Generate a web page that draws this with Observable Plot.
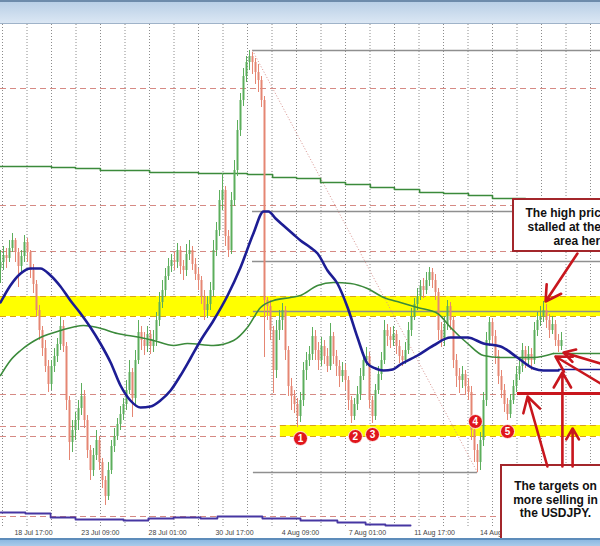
<!DOCTYPE html>
<html>
<head>
<meta charset="utf-8">
<script src="https://cdn.jsdelivr.net/npm/d3@7"></script>
<script src="https://cdn.jsdelivr.net/npm/@observablehq/plot@0.6"></script>
<style>
  html, body { margin: 0; padding: 0; background: #fff; overflow: hidden; width: 600px; height: 546px; }
  #hdr { height: 21px; background: linear-gradient(#b9cfe6, #dbe7f4); border-top: 2px solid #6d8bab; border-bottom: 1px solid #9fb3c9; }
  #ftr { height: 6px; background: linear-gradient(#8db9e2, #a9cbea); border-top: 2px solid #5d8cba; }
  #chart svg { display: block; }
</style>
</head>
<body>
<div id="hdr"></div>
<div id="chart"></div>
<div id="ftr"></div>
<script>
// ---- price candles (one every bar index) ----
const firstOpen = 110.56;
const closePrices = [
110.62,110.69,110.66,110.76,110.84,110.72,110.58,110.68,110.82,110.72,
110.54,110.40,110.14,109.94,109.76,109.58,109.40,109.58,109.68,109.80,
109.98,109.78,109.24,108.82,108.94,109.04,109.16,109.28,109.04,108.74,
108.54,108.69,108.84,108.62,108.44,108.28,108.54,108.78,108.88,109.00,
109.10,109.20,109.34,109.52,109.26,109.64,109.92,109.84,109.78,109.90,
109.78,109.84,110.04,110.22,110.34,110.48,110.58,110.64,110.62,110.74,
110.58,110.54,110.70,110.74,110.60,110.50,110.44,110.28,110.14,110.20,
110.34,110.74,110.94,111.24,111.34,110.88,110.74,111.24,111.54,111.94,
112.24,112.48,112.62,112.68,112.62,112.52,112.44,112.24,110.24,110.18,
109.94,109.54,109.94,110.04,110.14,109.74,109.38,109.28,109.20,109.08,
109.24,109.54,109.64,109.70,109.88,109.74,109.64,109.78,109.68,109.58,
109.88,109.68,109.58,109.48,109.54,109.44,109.24,109.08,109.20,109.30,
109.48,109.64,109.68,109.24,109.08,109.34,109.50,109.64,109.94,109.88,
109.84,109.90,109.78,109.68,109.64,109.74,109.94,110.08,110.20,110.28,
110.38,110.34,110.44,110.52,110.44,110.32,109.94,109.84,110.00,110.18,
110.04,109.64,109.48,109.44,109.50,109.38,109.32,108.94,108.74,108.62,
108.84,109.24,109.84,110.02,109.88,109.68,109.48,109.34,109.20,109.10,
109.24,109.38,109.50,109.58,109.74,109.64,109.70,109.64,109.94,110.04,
110.08,110.14,110.04,109.94,110.00,109.84,109.78,109.84
];
const highPrices = [
110.74,110.78,110.76,110.84,110.91,110.86,110.76,110.74,110.89,110.86,
110.74,110.60,110.44,110.19,109.98,109.84,109.64,109.64,109.76,109.86,
110.07,110.04,109.82,109.28,109.04,109.12,109.24,109.41,109.34,109.09,
108.79,108.76,108.94,108.88,108.66,108.48,108.62,108.84,108.96,109.06,
109.18,109.26,109.44,109.64,109.56,109.74,110.04,109.98,109.92,109.98,
109.94,109.94,110.12,110.32,110.44,110.56,110.66,110.70,110.72,110.81,
110.78,110.64,110.80,110.84,110.78,110.66,110.56,110.48,110.34,110.28,
110.42,110.84,111.02,111.34,111.51,111.38,110.94,111.32,111.64,112.04,
112.31,112.56,112.68,112.74,112.72,112.66,112.60,112.48,112.28,110.27,
110.24,109.98,110.04,110.14,110.21,110.18,109.78,109.46,109.34,109.26,
109.32,109.62,109.72,109.78,109.97,109.94,109.82,109.87,109.84,109.76,
110.01,109.92,109.74,109.64,109.62,109.60,109.48,109.28,109.26,109.38,
109.56,109.72,109.77,109.72,109.28,109.40,109.58,109.72,110.04,110.00,
109.97,109.98,109.94,109.84,109.74,109.82,110.02,110.16,110.26,110.36,
110.44,110.46,110.52,110.57,110.56,110.50,110.36,110.02,110.08,110.24,
110.22,110.08,109.70,109.56,109.58,109.54,109.46,109.38,109.00,108.80,
108.92,109.32,109.92,110.07,110.06,109.94,109.74,109.54,109.40,109.26,
109.30,109.44,109.58,109.66,109.81,109.78,109.78,109.76,110.02,110.12,
110.18,110.23,110.20,110.10,110.08,110.04,109.90,109.92
];
const lowPrices = [
110.41,110.54,110.56,110.62,110.72,110.62,110.37,110.52,110.62,110.62,
110.46,110.31,110.07,109.84,109.68,109.52,109.32,109.34,109.52,109.62,
109.74,109.72,109.14,108.64,108.72,108.84,108.94,109.09,108.96,108.66,
108.44,108.48,108.64,108.54,108.36,108.19,108.24,108.50,108.72,108.84,
108.94,109.04,109.14,109.30,109.07,109.20,109.60,109.74,109.69,109.72,
109.70,109.72,109.78,109.98,110.16,110.28,110.44,110.52,110.54,110.56,
110.50,110.44,110.48,110.64,110.54,110.44,110.34,110.20,110.04,110.06,
110.14,110.28,110.68,110.88,111.14,110.78,110.67,110.70,111.18,111.48,
111.88,112.18,112.42,112.54,112.50,112.40,112.32,112.17,109.67,110.04,
109.84,109.31,109.46,109.84,109.94,109.64,109.28,109.14,109.11,108.97,
109.02,109.18,109.44,109.58,109.64,109.64,109.54,109.58,109.60,109.52,
109.54,109.60,109.48,109.37,109.42,109.34,109.14,109.01,109.04,109.14,
109.24,109.44,109.58,109.16,109.01,109.04,109.30,109.44,109.60,109.78,
109.76,109.78,109.70,109.61,109.58,109.60,109.70,109.88,110.04,110.14,
110.24,110.26,110.30,110.38,110.36,110.24,109.84,109.77,109.78,109.94,
109.94,109.56,109.37,109.31,109.36,109.30,109.24,108.84,108.62,108.52,
108.54,108.78,109.18,109.78,109.80,109.60,109.40,109.26,109.12,109.04,
109.06,109.20,109.32,109.44,109.52,109.56,109.58,109.54,109.60,109.88,
109.98,110.02,109.96,109.86,109.90,109.78,109.72,109.74
];

// ---- moving averages ----
const blueMABars   = [0,3.3,6.7,10,13.3,16.7,20,23.3,26.7,30,33.3,36.7,40,43.3,46.7,50,53.3,56.7,60,63.3,66.7,71,75.7,80,84.3,87.7,89.3,91.7,94.3,97.7,100,103.3,105.7,109,112.3,115.7,119,122.3,125,127.7,130.7,133.3,139,144.3,150,155.7,161,166.7,172.3,177.7,181,186];
const blueMAPrices = [110.22,110.39,110.51,110.56,110.56,110.49,110.38,110.24,110.11,109.97,109.81,109.62,109.39,109.24,109.17,109.18,109.24,109.34,109.49,109.66,109.84,110.04,110.29,110.57,110.91,111.13,111.13,111.06,110.99,110.90,110.84,110.77,110.71,110.54,110.41,110.17,109.87,109.61,109.56,109.54,109.55,109.60,109.69,109.79,109.87,109.87,109.81,109.78,109.67,109.56,109.54,109.54];
const blueMAExtension = {from: 186, to: 200, price: 109.55};

const greenMABars   = [0,3.3,6.7,13.3,20,27.7,32.3,39,46.7,51,57.7,62.3,71,77.7,82.3,86.7,91,96.7,100,105.7,111,116.7,122.3,127.7,133.3,139,145.7,150,155.7,161,166.7,172.3,177.7,184.3];
const greenMAPrices = [109.49,109.64,109.74,109.87,109.94,109.99,109.97,109.91,109.87,109.84,109.79,109.81,109.79,109.84,109.97,110.17,110.24,110.27,110.29,110.39,110.42,110.41,110.36,110.27,110.22,110.17,110.11,109.97,109.81,109.69,109.67,109.67,109.67,109.71];
const greenMAExtension = {from: 184.3, to: 200, price: 109.71};

const longMABars   = [0,17,25,33.3,49.7,66,82.3,90.7,98.7,106.7,115,123.3,131.3,139.7,147.7,156,164,175];
const longMAPrices = [111.58,111.57,111.56,111.54,111.52,111.51,111.50,111.47,111.46,111.42,111.40,111.37,111.35,111.32,111.31,111.29,111.26,111.26];

const lowerStepBars   = [0,8.3,16.7,25,41,49.3,57.7,66.7,72.3,87.3,100,112.3,121.7,128.3,136.7];
const lowerStepPrices = [108.12,108.11,108.07,108.05,108.04,108.06,108.07,108.06,108.08,108.06,108.04,108.02,108.00,107.99,107.99];

// ---- levels ----
const dashedLevels = [112.36, 111.19, 110.73, 109.30, 108.98, 108.88, 108.08];
const grayLevels      = [112.74, 111.13, 110.63, 110.13, 108.52];
const grayLevelStarts = [84, 84, 84, 84.3, 84.3];
const grayLevelEnds   = [200, 200, 200, 200, 159];
const bandTop    = [110.28, 108.99];
const bandBottom = [110.08, 108.88];
const bandStart  = [0, 93.3];
const bandEnd    = [200, 200];
const trendFrom = {bar: 84, price: 112.74};
const trendTo   = {bar: 159, price: 108.52};
const targetLine = {from: 172.3, to: 200, price: 109.31};

// ---- numbered touches ----
const touchLabels = ["1","2","3","4","5"];
const touchBars   = [100, 118.3, 124, 158.3, 169];
const touchPrices = [108.86, 108.88, 108.90, 109.03, 108.93];

// ---- arrows ----
const arrowFromBars   = [192.3, 182.3, 187.3, 190.7, 200, 200];
const arrowFromPrices = [110.71, 108.58, 108.58, 108.58, 109.61, 109.41];
const arrowToBars     = [181.7, 175.7, 187.3, 190.7, 187.7, 185];
const arrowToPrices   = [110.23, 109.28, 109.52, 108.96, 109.72, 109.68];

// ---- callouts ----
const box1 = {x1: 171, x2: 210, y1: 111.25, y2: 110.73};
const box1Lines  = ["The high price", "stalled at the", "area here"];
const box1Bars   = [175, 175.7, 184.3];
const box1Prices = [111.11, 110.97, 110.83];
const box2 = {x1: 167, x2: 210, y1: 108.59, y2: 107.85};
const box2Lines  = ["The targets on", "more selling in", "the USDJPY."];
const box2Prices = [108.38, 108.24, 108.11];
const box2Center = 185;

// ---- time axis ----
const timeLabels = ["18 Jul 17:00","23 Jul 09:00","28 Jul 01:00","30 Jul 17:00","4 Aug 09:00","7 Aug 01:00","11 Aug 17:00","14 Aug 09:00","17 Aug 01:00"];
const timeBars   = [11, 33.3, 55.7, 78, 100, 122.3, 144.7, 166.7, 189];
const gridBars = d3.range(25).map(k => (2 + 24.5 * k) / 3);

// ---- build tables ----
const candles = closePrices.map((c, i) => ({
  i, close: c, open: i ? closePrices[i - 1] : firstOpen,
  high: highPrices[i], low: lowPrices[i]
}));
const UP = "#5cae5c", DOWN = "#e58673";
const colorOf = d => d.close >= d.open ? UP : DOWN;
const blueMA = blueMABars.map((x, i) => ({x, y: blueMAPrices[i]}));
const greenMA = greenMABars.map((x, i) => ({x, y: greenMAPrices[i]}));
const longMA = longMABars.map((x, i) => ({x, y: longMAPrices[i]}));
const lowerStep = lowerStepBars.map((x, i) => ({x, y: lowerStepPrices[i]}));
const grays = grayLevels.map((y, i) => ({y, x1: grayLevelStarts[i], x2: grayLevelEnds[i]}));
const bands = bandTop.map((t, i) => ({y1: t, y2: bandBottom[i], x1: bandStart[i], x2: bandEnd[i]}));
const bandEdges = bands.flatMap(b => [{y: b.y1, x1: b.x1, x2: b.x2}, {y: b.y2, x1: b.x1, x2: b.x2}]);
const touches = touchLabels.map((t, i) => ({t, x: touchBars[i], y: touchPrices[i]}));
const arrows = arrowFromBars.map((x1, i) => ({x1, y1: arrowFromPrices[i], x2: arrowToBars[i], y2: arrowToPrices[i]}));
const labelMap = new Map(timeBars.map((b, i) => [b, timeLabels[i]]));
const ext = [
  {x1: blueMAExtension.from, x2: blueMAExtension.to, y: blueMAExtension.price, c: "#1d1d94"},
  {x1: greenMAExtension.from, x2: greenMAExtension.to, y: greenMAExtension.price, c: "#3b8a3b"}
];

const RED = "#c8161d";
const FONT = "'Liberation Sans', Arial, sans-serif";

const chart = Plot.plot({
  width: 600, height: 514,
  marginLeft: 0, marginRight: 0, marginTop: 0, marginBottom: 10,
  x: {domain: [0, 200]},
  y: {domain: [107.96, 113], axis: null},
  color: {type: "identity"},
  style: {background: "white", fontFamily: FONT, overflow: "hidden"},
  marks: [
    Plot.gridX(gridBars, {stroke: "#8c8c8c", strokeOpacity: 1, strokeDasharray: "1,2", strokeWidth: 1}),
    Plot.ruleY(dashedLevels, {stroke: "#d68a84", strokeDasharray: "6,4", strokeWidth: 1}),
    Plot.rectY(bands, {x1: "x1", x2: "x2", y1: "y1", y2: "y2", fill: "#ffff00"}),
    Plot.ruleY(bandEdges, {y: "y", x1: "x1", x2: "x2", stroke: "#d9a21a", strokeDasharray: "6,4", strokeWidth: 1}),
    Plot.ruleY(grays, {y: "y", x1: "x1", x2: "x2", stroke: "#8f8f8f", strokeWidth: 1.3}),
    Plot.link([{}], {x1: trendFrom.bar, y1: trendFrom.price, x2: trendTo.bar, y2: trendTo.price, stroke: "#d7928e", strokeDasharray: "1,2", strokeWidth: 1}),
    Plot.line(longMA, {x: "x", y: "y", curve: "step-after", stroke: "#3b8a3b", strokeWidth: 1.6}),
    Plot.line(lowerStep, {x: "x", y: "y", curve: "step-after", stroke: "#4636a2", strokeWidth: 1.8}),
    Plot.ruleX(candles, {x: "i", y1: "low", y2: "high", stroke: colorOf, strokeWidth: 1}),
    Plot.ruleX(candles, {x: "i", y1: "open", y2: "close", stroke: colorOf, strokeWidth: 2}),
    Plot.line(greenMA, {x: "x", y: "y", curve: "monotone-x", stroke: "#3b8a3b", strokeWidth: 1.6}),
    Plot.line(blueMA, {x: "x", y: "y", curve: "monotone-x", stroke: "#1d1d94", strokeWidth: 2.6}),
    Plot.ruleY(ext, {y: "y", x1: "x1", x2: "x2", stroke: "c", strokeWidth: 1.4}),
    Plot.ruleY([targetLine], {y: "price", x1: "from", x2: "to", stroke: RED, strokeWidth: 3}),
    Plot.axisX(timeBars, {tickFormat: d => labelMap.get(d), tickSize: 0, tickPadding: 2, fontSize: 7, fill: "#444", fontFamily: FONT}),
    Plot.dot(touches, {x: "x", y: "y", r: 7, fill: "#e0161c", stroke: "#fff", strokeWidth: 0.8}),
    Plot.text(touches, {x: "x", y: "y", text: "t", fill: "white", fontSize: 10, fontWeight: "bold", fontFamily: FONT}),
    Plot.rect([box1, box2], {x1: "x1", x2: "x2", y1: "y1", y2: "y2", fill: "white", stroke: "#a3262b", strokeWidth: 2}),
    Plot.text(box1Lines, {x: (d, i) => box1Bars[i], y: (d, i) => box1Prices[i], text: d => d, textAnchor: "start", fontSize: 12, fontWeight: "bold", fill: "#111", fontFamily: FONT}),
    Plot.text(box2Lines, {x: box2Center, y: (d, i) => box2Prices[i], text: d => d, textAnchor: "middle", fontSize: 12, fontWeight: "bold", fill: "#111", fontFamily: FONT}),
    Plot.arrow(arrows, {x1: "x1", y1: "y1", x2: "x2", y2: "y2", stroke: RED, strokeWidth: 2.6, headLength: 10})
  ]
});
document.getElementById("chart").appendChild(chart);
</script>
</body>
</html>
